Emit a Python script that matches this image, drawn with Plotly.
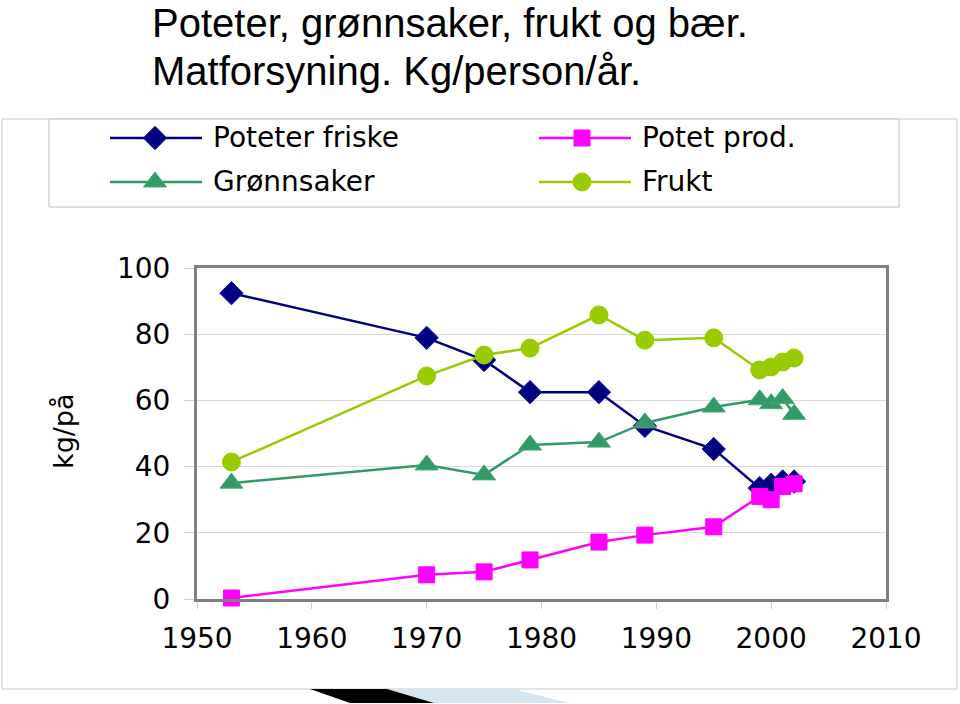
import plotly.graph_objects as go

W, H = 960, 704

years = [1953, 1970, 1975, 1979, 1985, 1989, 1995, 1999, 2000, 2001, 2002]
poteter_friske = [92.4, 78.9, 72.2, 62.5, 62.5, 52.3, 45.3, 33.5, 34.5, 35.5, 35.5]
potet_prod = [0.3, 7.3, 8.2, 11.8, 17.2, 19.3, 21.8, 31.0, 30.0, 34.0, 34.8]
gronnsaker = [35.0, 40.5, 37.5, 46.5, 47.4, 53.2, 58.0, 60.2, 59.0, 60.6, 55.8]
frukt = [41.4, 67.4, 73.7, 75.8, 85.8, 78.2, 78.9, 69.2, 70.1, 71.6, 72.8]

series_names = ["Poteter friske", "Potet prod.", "Grønnsaker", "Frukt"]
series_values = [poteter_friske, potet_prod, gronnsaker, frukt]
colors = ["#000080", "#ff00ff", "#339966", "#99cc00"]
line_colors = ["#000080", "#ff00ff", "#339966", "#99cc00"]
symbols = ["diamond", "square", "triangle-up", "circle"]
msizes = [18, 16, 20, 18]
mline = ["#1a1a9a", "#ff00ff", "#4aa77a", "#99cc00"]

title_lines = ["Poteter, grønnsaker, frukt og bær.", "Matforsyning. Kg/person/år."]
y_title = "kg/på"
x_ticks = [1950, 1960, 1970, 1980, 1990, 2000, 2010]
y_ticks = [0, 20, 40, 60, 80, 100]


def PX(x):
    return x / W


def PY(y):
    return 1 - y / H


fig = go.Figure()

for name, vals, c, lc, s, ms, ml in zip(series_names, series_values, colors, line_colors, symbols, msizes, mline):
    fig.add_trace(go.Scatter(
        x=years, y=vals, name=name, mode="lines+markers",
        line=dict(color=lc, width=2.5),
        marker=dict(symbol=s, size=ms, color=c, line=dict(color=ml, width=1)),
        cliponaxis=False, showlegend=False,
    ))

# custom legend (two columns), drawn on an overlay pixel axis
leg_cols = [(110, 202, 155, 211), (539, 631, 582, 640)]
leg_rows = [138, 182]
for i, (name, c, lc, s, ms, ml) in enumerate(zip(series_names, colors, line_colors, symbols, msizes, mline)):
    col = leg_cols[i % 2]
    row = leg_rows[i // 2]
    fig.add_trace(go.Scatter(
        x=[col[0], col[1]], y=[row, row], mode="lines",
        line=dict(color=lc, width=2.5), xaxis="x2", yaxis="y2",
        showlegend=False, hoverinfo="skip",
    ))
    fig.add_trace(go.Scatter(
        x=[col[2]], y=[row], mode="markers",
        marker=dict(symbol=s, size=ms, color=c, line=dict(color=ml, width=1)),
        xaxis="x2", yaxis="y2", showlegend=False, hoverinfo="skip",
    ))
    fig.add_annotation(
        x=col[3], y=row - 1, xref="x2", yref="y2", text=name, showarrow=False,
        xanchor="left", yanchor="middle",
        font=dict(family="DejaVu Sans", size=28, color="black"),
    )

# titles
for i, (t, yy) in enumerate(zip(title_lines, [23, 71])):
    fig.add_annotation(
        x=PX(150), y=PY(yy), xref="paper", yref="paper", text=t, showarrow=False,
        xanchor="left", yanchor="middle",
        font=dict(family="Liberation Sans, Arial", size=40, color="black"),
    )

# y axis title
fig.add_annotation(
    x=PX(63), y=PY(431), xref="paper", yref="paper", text=y_title, showarrow=False,
    textangle=-90, xanchor="center", yanchor="middle",
    font=dict(family="DejaVu Sans", size=27, color="black"),
)

shapes = [
    dict(type="rect", xref="paper", yref="paper", x0=PX(2), x1=PX(957), y0=PY(689), y1=PY(119),
         line=dict(color="#c8c8c8", width=1), layer="below"),
    dict(type="rect", xref="paper", yref="paper", x0=PX(49), x1=PX(899), y0=PY(207), y1=PY(119),
         line=dict(color="#c0c0c0", width=1), fillcolor="white", layer="below"),
    dict(type="path", xref="paper", yref="paper",
         path=f"M {PX(387)} {PY(689)} L {PX(513)} {PY(689)} L {PX(570)} {PY(703)} L {PX(434)} {PY(703)} Z",
         fillcolor="#d6e6ef", line=dict(width=0)),
    dict(type="path", xref="paper", yref="paper",
         path=f"M {PX(310)} {PY(689)} L {PX(387)} {PY(689)} L {PX(434)} {PY(703)} L {PX(350)} {PY(703)} Z",
         fillcolor="black", line=dict(width=0)),
]

fig.update_layout(
    template="none",
    width=W, height=H,
    margin=dict(l=0, r=0, t=0, b=0, pad=0, autoexpand=False),
    paper_bgcolor="white",
    plot_bgcolor="rgba(0,0,0,0)",
    showlegend=False,
    shapes=shapes,
    xaxis=dict(
        domain=[PX(197), PX(886)], range=[1950, 2010], tickvals=x_ticks,
        ticktext=[str(v) for v in x_ticks], automargin=False,
        showgrid=False, zeroline=False,
        showline=True, mirror=True, linecolor="#808080", linewidth=3,
        ticks="outside", ticklen=7, tickcolor="#d0d0d0", tickwidth=1,
        ticklabelstandoff=5,
        tickfont=dict(family="DejaVu Sans", size=28, color="black"),
        fixedrange=True,
    ),
    yaxis=dict(
        domain=[PY(599), PY(268)], range=[0, 100], tickvals=y_ticks, automargin=False,
        showgrid=True, gridcolor="#d9d9d9", gridwidth=1, zeroline=False,
        showline=True, mirror=True, linecolor="#808080", linewidth=3,
        ticks="outside", ticklen=10, tickcolor="#d0d0d0", tickwidth=1,
        ticklabelstandoff=8,
        tickfont=dict(family="DejaVu Sans", size=28, color="black"),
        fixedrange=True,
    ),
    xaxis2=dict(domain=[0, 1], range=[0, W], visible=False, anchor="y2", fixedrange=True, automargin=False),
    yaxis2=dict(domain=[0, 1], range=[H, 0], visible=False, anchor="x2", fixedrange=True, automargin=False),
)

fig.write_html("out.html")
